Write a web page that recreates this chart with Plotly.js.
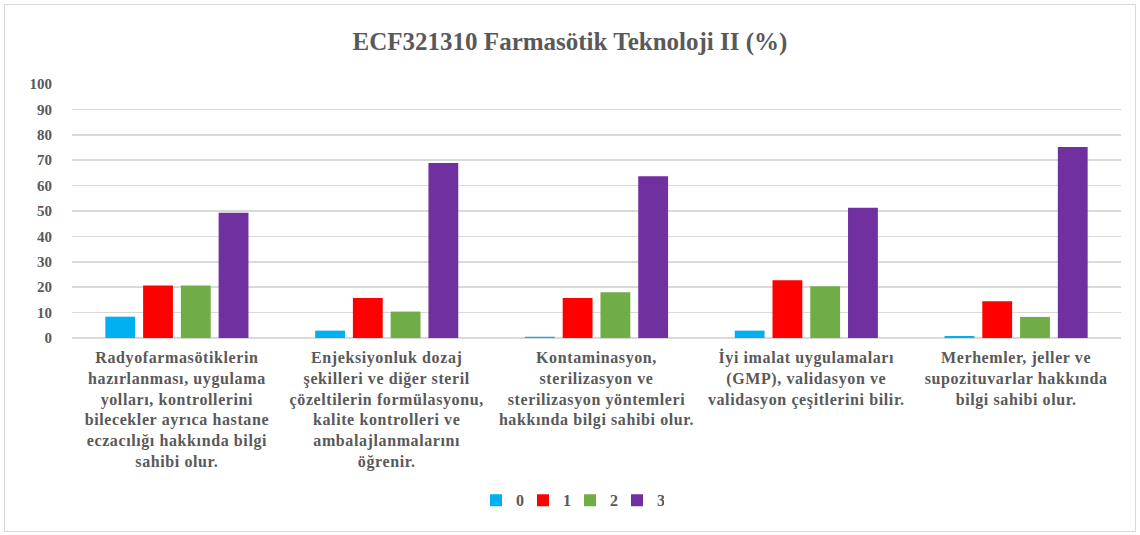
<!DOCTYPE html>
<html>
<head>
<meta charset="utf-8">
<script src="https://cdn.plot.ly/plotly-3.0.1.min.js"></script>
<style>
html,body{margin:0;padding:0;background:#fff;}
#wrap{position:relative;width:1140px;height:535px;}
#chart{width:1140px;height:535px;}
#frame{position:absolute;left:4px;top:4px;width:1130px;height:526px;border:1px solid #d9d9d9;pointer-events:none;}
#chart .xtick text{letter-spacing:0.6px;}
</style>
</head>
<body>
<div id="wrap"><div id="chart"></div><div id="frame"></div></div>
<script>
const categories = [
  "Radyofarmasötiklerin<br>hazırlanması, uygulama<br>yolları, kontrollerini<br>bilecekler ayrıca hastane<br>eczacılığı hakkında bilgi<br>sahibi olur.",
  "Enjeksiyonluk dozaj<br>şekilleri ve diğer steril<br>çözeltilerin formülasyonu,<br>kalite kontrolleri ve<br>ambalajlanmalarını<br>öğrenir.",
  "Kontaminasyon,<br>sterilizasyon ve<br>sterilizasyon yöntemleri<br>hakkında bilgi sahibi olur.",
  "İyi imalat uygulamaları<br>(GMP), validasyon ve<br>validasyon çeşitlerini bilir.",
  "Merhemler, jeller ve<br>supozituvarlar hakkında<br>bilgi sahibi olur."
];
const seriesNames = ["0", "1", "2", "3"];
const values0 = [8.4, 2.9, 0.5, 2.9, 0.8];
const values1 = [20.7, 15.7, 15.7, 22.7, 14.5];
const values2 = [20.7, 10.4, 18.0, 20.4, 8.3];
const values3 = [49.3, 68.9, 63.7, 51.3, 75.2];
const colors = ["#00B0F0", "#FF0000", "#70AD47", "#7030A0"];
const yTicks = [0,10,20,30,40,50,60,70,80,90,100];

const allValues = [values0, values1, values2, values3];
const font = "'Liberation Serif', 'Times New Roman', serif";
const textColor = "#595959";

const traces = allValues.map((vals, i) => ({
  type: "bar",
  name: seriesNames[i],
  x: categories,
  y: vals,
  marker: {color: colors[i], line: {width: 0}},
  hoverinfo: "y"
}));

const layout = {
  width: 1140,
  height: 535,
  margin: {l: 72, r: 19, t: 84, b: 197},
  paper_bgcolor: "#ffffff",
  plot_bgcolor: "#ffffff",
  font: {family: font, color: textColor, size: 15, weight: "bold"},
  title: {
    text: "<b>ECF321310 Farmasötik Teknoloji II (%)</b>",
    x: 0.5, xref: "container", xanchor: "center",
    y: 0.922, yref: "container", yanchor: "middle",
    font: {family: font, size: 25, color: textColor}
  },
  barmode: "group",
  bargap: 0.28,
  bargroupgap: 0.21,
  xaxis: {
    type: "category",
    tickfont: {family: font, size: 16, color: textColor, weight: "bold"},
    showgrid: false,
    showline: false,
    ticks: "",
    ticklabelstandoff: 8,
    fixedrange: true
  },
  yaxis: {
    range: [0, 100],
    tickvals: yTicks,
    ticktext: yTicks.map(String),
    tickfont: {family: font, size: 15, color: textColor, weight: "bold"},
    showgrid: true,
    gridcolor: "#d9d9d9",
    gridwidth: 1.5,
    zeroline: true,
    zerolinecolor: "#d9d9d9",
    zerolinewidth: 1.5,
    showline: false,
    ticks: "",
    ticklabelstandoff: 19,
    fixedrange: true
  },
  legend: {
    orientation: "h",
    x: 0.5, xref: "container", xanchor: "center",
    y: 0.065, yref: "container", yanchor: "middle",
    font: {family: font, size: 16, color: textColor, weight: "bold"},
    entrywidth: 2,
    entrywidthmode: "pixels",
    itemwidth: 30,
    traceorder: "normal"
  },
  showlegend: true
};

Plotly.newPlot("chart", traces, layout, {displayModeBar: false, staticPlot: true});
</script>
</body>
</html>
